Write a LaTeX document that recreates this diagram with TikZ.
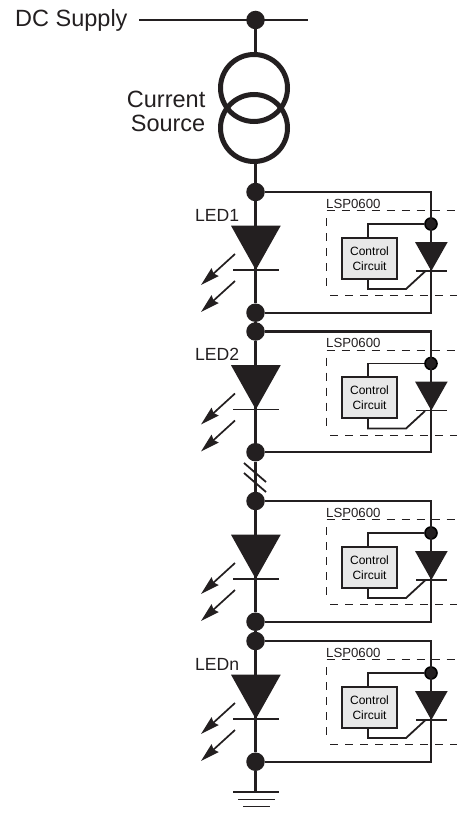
\documentclass[tikz,border=0pt]{standalone}
\usepackage{fontspec}
\setmainfont{Liberation Sans}
\usetikzlibrary{arrows.meta}
\definecolor{ink}{HTML}{231F20}
\tikzset{
  wire/.style={draw=ink,line width=2.1pt},
  thinwire/.style={draw=ink,line width=1.8pt},
  thickring/.style={circle,draw=ink,line width=5pt,minimum size=67pt,inner sep=0pt},
  bigdot/.style={circle,fill=ink,inner sep=0pt,minimum size=18.5pt},
  smalldot/.style={circle,fill=ink,draw=black,line width=1.6pt,inner sep=0pt,minimum size=12pt},
  ctrlbox/.style={draw=ink,line width=1.9pt,fill=black!9,minimum width=55pt,minimum height=41pt,inner sep=0pt,align=center,font=\fontsize{12}{15}\selectfont},
  lbl/.style={inner sep=0pt,text=ink},
  dashbox/.style={draw=ink,line width=1.1pt,dash pattern=on 8pt off 7pt},
  ledarrow/.style={draw=ink,line width=1.7pt,-{Stealth[length=19pt,width=10.5pt,inset=2pt]}},
  diode/.style={fill=ink,draw=none},
}
\begin{document}
\begin{tikzpicture}[x=1pt,y=-1pt]
\useasboundingbox (0,0) rectangle (457,813);
% supply
\coordinate (supL) at (139,20);
\coordinate (supR) at (308,20);
\node[bigdot] (sup) at (255.5,20) {};
\node[lbl,anchor=base west,font=\fontsize{23.5}{26}\selectfont] (dc) at (15,27) {DC Supply};
\draw[wire] (supL) -- (supR);
\node[thickring] (cs1) at (254,88) {};
\node[thickring] (cs2) at (254,128) {};
\node[lbl,anchor=base east,font=\fontsize{23.5}{26}\selectfont] (cur) at (205.5,108) {Current};
\node[lbl,anchor=base east,font=\fontsize{23.5}{26}\selectfont] (src) at (205.5,132) {Source};
\draw[wire] (sup) -- (sup|-cs1.north);
% blocks
\foreach \o/\n/\lab in {0/a/LED1,139.5/b/LED2,309/c/,449/d/LEDn}{
\begin{scope}[yshift=-\o pt]
  \node[bigdot] (top\n) at (255.5,192) {};
  \node[bigdot] (bot\n) at (255.5,312.7) {};
  \coordinate (tr\n) at (431,192);
  \coordinate (br\n) at (431,312.7);
  \node[smalldot] (inner\n) at (431,224) {};
  \node[ctrlbox] (ctl\n) at (369.5,258.3) {Control\\Circuit};
  \coordinate (ct\n) at (368,237.7);
  \coordinate (cb\n) at (368,279);
  \coordinate (ci\n) at (368,224);
  \coordinate (cd\n) at (368,289);
  \coordinate (ke\n) at (406,289);
  \coordinate (gt\n) at (425,271.5);
  \draw[wire] (top\n) -- (bot\n);
  \draw[wire] (top\n) -- (tr\n) -- (br\n) -- (bot\n);
  \draw[thinwire] (ct\n) -- (ci\n) -- (inner\n);
  \draw[thinwire] (cb\n) -- (cd\n) -- (ke\n) -- (gt\n);
  \fill[diode] (231,225.7) -- (280.7,225.7) -- (255.8,270) -- cycle;
  \draw[thinwire] (233,270) -- (279,270);
  \fill[diode] (415,242) -- (447.7,242) -- (431.3,271) -- cycle;
  \draw[thinwire] (416,271) -- (447,271);
  \draw[ledarrow] (235,254) -- (201,285);
  \draw[ledarrow] (235,281) -- (201,312);
  \draw[dashbox] (326.5,210.7) -- (457,210.7);
  \draw[dashbox] (326.5,218) -- (326.5,292);
  \draw[dashbox] (330,295.7) -- (457,295.7);
  \node[lbl,anchor=base west,font=\fontsize{13.2}{15}\selectfont] (lsp\n) at (326,208.3) {LSP0600};
  \node[lbl,anchor=base west,font=\fontsize{17.6}{20}\selectfont] (led\n) at (195,221) {\lab};
\end{scope}
}
\draw[wire] (topa|-cs2.south) -- (topa);
\draw[wire] (bota) -- (topb);
\draw[wire] (botb) -- (topc);
\draw[wire] (botc) -- (topd);
% break mark
\draw[thinwire] (244,463) -- (266,482);
\draw[thinwire] (244,473) -- (266,492);
% ground
\coordinate (gnd) at (255.5,792);
\draw[wire] (botd) -- (gnd);
\draw[thinwire] (233,792) -- (279,792);
\draw[thinwire] (238,799.5) -- (275,799.5);
\draw[thinwire] (243,806.5) -- (270,806.5);
\end{tikzpicture}
\end{document}
